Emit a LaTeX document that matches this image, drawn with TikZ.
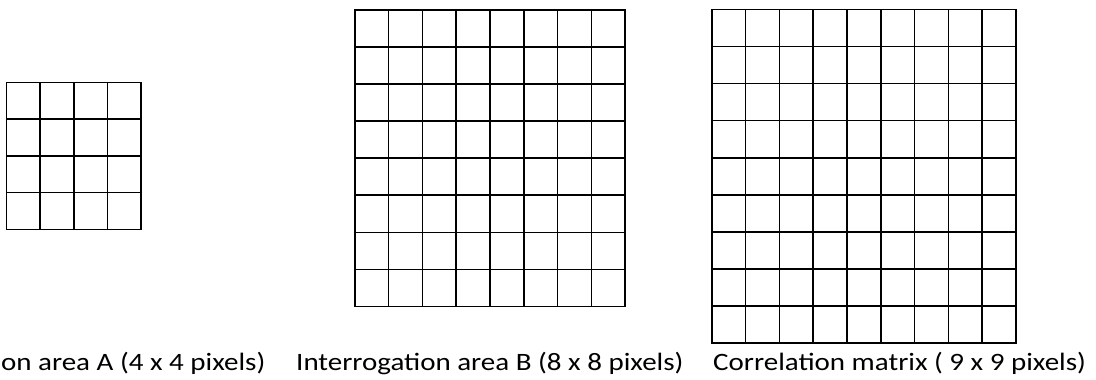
\documentclass[tikz,border=0pt]{standalone}
\usepackage{fontspec}
\setmainfont{Carlito}
\newfontfamily\capfont[FakeStretch=1.16]{Carlito}
\newcommand\pxgrid[5]{%
  \foreach \k in {0,...,#3}{%
    \draw[gridline] ({#1+\k*#4},#2) -- ++(0,{#3*#5});
    \draw[gridline] (#1,{#2+\k*#5}) -- ++({#3*#4},0);
  }%
}
\begin{document}
\begin{tikzpicture}[x=1pt,y=-1pt,
  gridline/.style={line width=1.6pt, line cap=rect, black},
  caption/.style={inner sep=0pt, font=\capfont\fontsize{25}{30}\selectfont}]
\useasboundingbox (0,0) rectangle (1096,380);
\clip (0,0) rectangle (1096,380);
% Interrogation area A (4 x 4)
\pxgrid{6.3}{82.3}{4}{33.7}{36.75}
% Interrogation area B (8 x 8)
\pxgrid{354.7}{9.7}{8}{33.8}{37.1}
% Correlation matrix (9 x 9)
\pxgrid{711.7}{9.3}{9}{33.8}{37.1}
\node[caption, anchor=base east] (capA) at (265.5,370.5) {Interrogation area A (4 x 4 pixels)};
\node[caption, anchor=base west] (capB) at (296,370.5) {Interrogation area B (8 x 8 pixels)};
\node[caption, anchor=base west] (capC) at (713,370.5) {Correlation matrix ( 9 x 9 pixels)};
\end{tikzpicture}
\end{document}
